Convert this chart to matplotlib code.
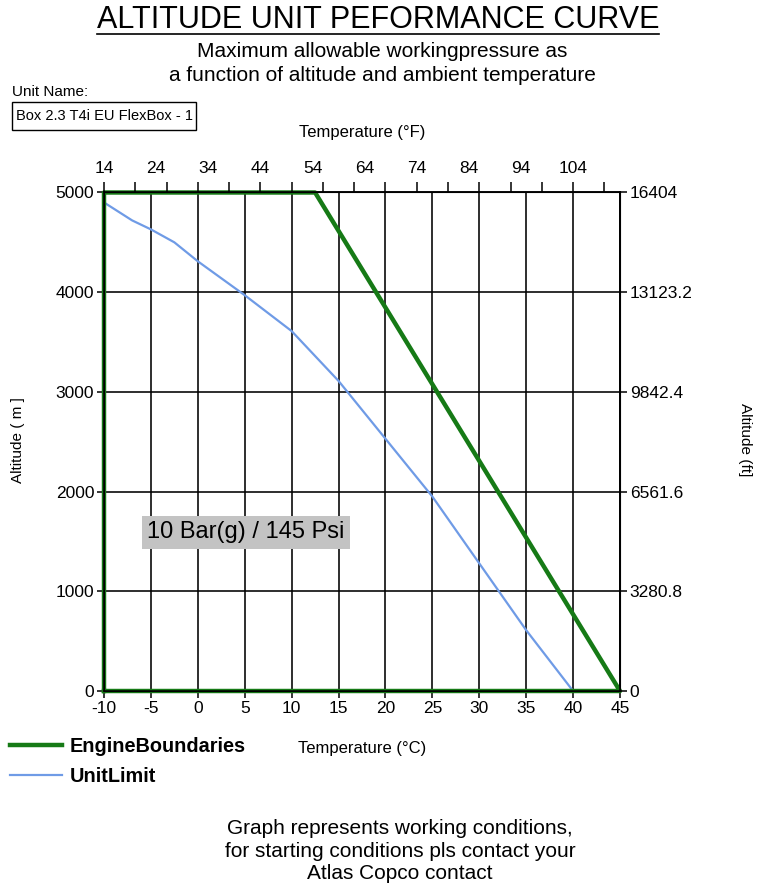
import matplotlib
matplotlib.use('Agg')
import matplotlib.pyplot as plt
from matplotlib.lines import Line2D
from matplotlib.patches import Rectangle

plt.rcParams['font.family'] = ['Liberation Sans', 'DejaVu Sans']
plt.rcParams['axes.unicode_minus'] = False

# Engine boundary polygon (temperature in C, altitude in m)
engine_temp_c = [-10, -10, 12.5, 45, -10]
engine_alt_m = [0, 5000, 5000, 0, 0]

# Unit limit curve
unit_temp_c = [-10, -7, -5, -2.5, 0, 5, 10, 15, 20, 25, 30, 35, 40]
unit_alt_m = [4900, 4720, 4630, 4500, 4310, 3970, 3610, 3110, 2530, 1950, 1280, 610, 0]

# Axis ticks
celsius_ticks = [-10, -5, 0, 5, 10, 15, 20, 25, 30, 35, 40, 45]
altitude_ticks_m = [0, 1000, 2000, 3000, 4000, 5000]
fahrenheit_labels = [14, 24, 34, 44, 54, 64, 74, 84, 94, 104]
fahrenheit_marks = [14, 20, 26, 32, 38, 44, 50, 56, 62, 68, 74, 80, 86, 92, 98, 104, 110]
feet_ticks = [0, 3280.8, 6561.6, 9842.4, 13123.2, 16404]
feet_labels = ['0', '3280.8', '6561.6', '9842.4', '13123.2', '16404']

W, H = 758, 888
green = '#167a16'
blue = '#6f9be6'

fig = plt.figure(figsize=(W / 100, H / 100), dpi=100)
ax = fig.add_axes([104 / W, 1 - 691 / H, 516 / W, 498.5 / H])

ax.plot(engine_temp_c, engine_alt_m, color=green, lw=3.2, label='EngineBoundaries',
        clip_on=False, zorder=4)
ax.plot(unit_temp_c, unit_alt_m, color=blue, lw=1.6, label='UnitLimit', zorder=3)

ax.set_xlim(-10, 45)
ax.set_ylim(0, 5000)
ax.set_xticks(celsius_ticks)
ax.set_yticks(altitude_ticks_m)
ax.grid(True, color='black', lw=1.15)
ax.set_axisbelow(True)
ax.tick_params(direction='out', length=5, width=1.1, labelsize=12.5, pad=2)
for s in ax.spines.values():
    s.set_linewidth(1.1)

# Fahrenheit axis on top
ax_f = ax.twiny()
ax_f.set_xlim(14, 113)
ax_f.xaxis.remove_overlapping_locs = False
ax_f.set_xticks(fahrenheit_labels)
ax_f.set_xticks(fahrenheit_marks, minor=True)
ax_f.tick_params(axis='x', which='major', length=0, labelsize=12.5, pad=12)
ax_f.tick_params(axis='x', which='minor', direction='out', length=7, width=1.1)
for s in ax_f.spines.values():
    s.set_linewidth(1.1)

# Feet axis on the right
ax_ft = ax.twinx()
ax_ft.set_ylim(0, 16404)
ax_ft.set_yticks(feet_ticks, feet_labels)
ax_ft.tick_params(axis='y', direction='out', length=5, width=1.1, labelsize=12.5, pad=2)

ax.text(5.1, 1590, '10 Bar(g) / 145 Psi', ha='center', va='center', fontsize=17,
        bbox=dict(boxstyle='square,pad=0.22', fc='#c3c3c3', ec='none'), zorder=6)

# titles and labels
title = fig.text(378 / W, 1 - 20 / H, 'ALTITUDE UNIT PEFORMANCE CURVE', ha='center',
                 va='center', fontsize=22)
fig.text(382 / W, 1 - 63.5 / H, 'Maximum allowable workingpressure as\n'
         'a function of altitude and ambient temperature',
         ha='center', va='center', fontsize=15, linespacing=1.3)
fig.text(12 / W, 1 - 92 / H, 'Unit Name:', ha='left', va='center', fontsize=11)
fig.add_artist(Rectangle((12 / W, 1 - 130 / H), 184 / W, 28 / H, transform=fig.transFigure,
                         fc='white', ec='black', lw=1))
fig.text(16 / W, 1 - 116 / H, 'Box 2.3 T4i EU FlexBox - 1', ha='left', va='center',
         fontsize=10.5)
fig.text(362 / W, 1 - 132 / H, 'Temperature (°F)', ha='center', va='center', fontsize=12)
fig.text(362 / W, 1 - 748 / H, 'Temperature (°C)', ha='center', va='center', fontsize=12)
fig.text(18 / W, 1 - 440 / H, 'Altitude ( m ]', ha='center', va='center', rotation=90,
         fontsize=11)
fig.text(745 / W, 1 - 440 / H, 'Altitude (ft]', ha='center', va='center', rotation=270,
         fontsize=11)
fig.text(400 / W, 1 - 851 / H, 'Graph represents working conditions,\n'
         'for starting conditions pls contact your\nAtlas Copco contact',
         ha='center', va='center', fontsize=15, linespacing=1.25)

ax.legend(loc='upper left', bbox_to_anchor=(10 / W, 1 - 737 / H),
          bbox_transform=fig.transFigure, frameon=False,
          prop={'weight': 'bold', 'size': 14.3}, handlelength=2.6, handletextpad=0.4,
          labelspacing=0.55, borderaxespad=0, borderpad=0)

# underline the title
fig.canvas.draw()
bb = title.get_window_extent().transformed(fig.transFigure.inverted())
fig.add_artist(Line2D([bb.x0, bb.x1], [bb.y0 + 0.001, bb.y0 + 0.001], color='black', lw=1.2))

fig.savefig('out.png', dpi=100, facecolor='white')
